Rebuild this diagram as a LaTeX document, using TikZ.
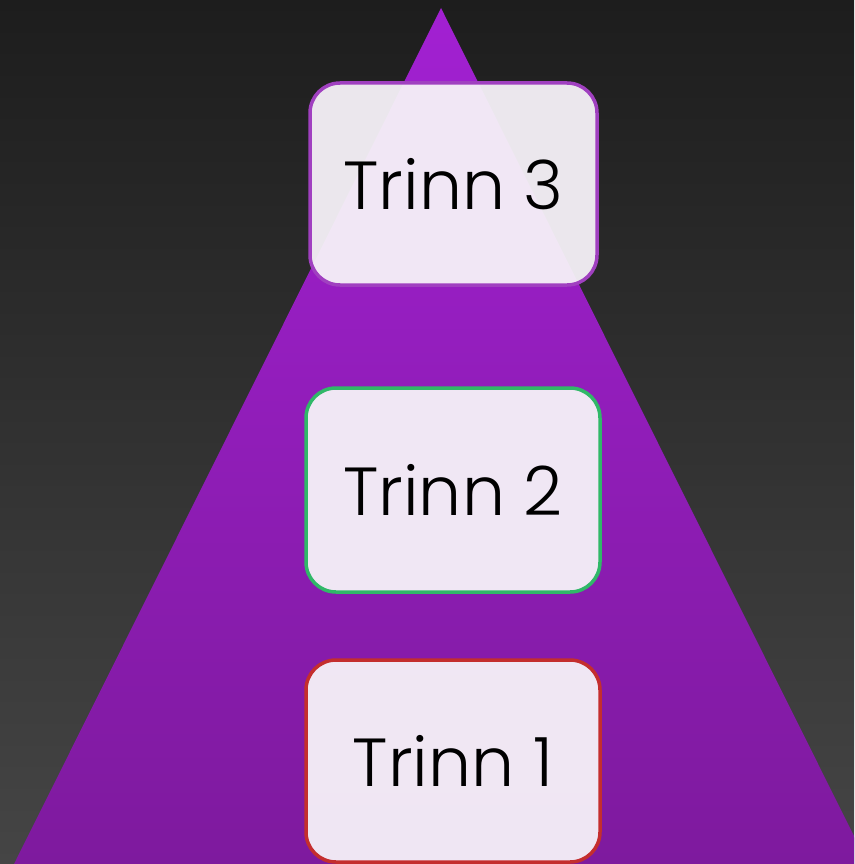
\documentclass[tikz,border=0pt]{standalone}
\usepackage{fontspec}
\setmainfont{Poppins Light}
\definecolor{bgtop}{HTML}{1D1D1D}
\definecolor{bgbot}{HTML}{454545}
\definecolor{tritop}{HTML}{A220D2}
\definecolor{tribot}{HTML}{7E1A9E}
\definecolor{boxfill}{HTML}{F6F2F8}
\definecolor{bpurple}{HTML}{A040C0}
\definecolor{bgreen}{HTML}{30B868}
\definecolor{bred}{HTML}{C42E2E}
\tikzset{
  stepbox/.style={draw, line width=3.5pt, rounded corners=30pt, fill=boxfill, fill opacity=0.95, text opacity=1,
    inner sep=0pt, font=\fontsize{68}{72}\selectfont, text=black},
}
\begin{document}
\begin{tikzpicture}[x=1pt,y=-1pt]
\useasboundingbox (0,0) rectangle (854,864);
\clip (0,0) rectangle (854,864);
\shade[top color=bgtop, bottom color=bgbot] (0,0) rectangle (854,864);
\coordinate (apex) at (441,8);
\coordinate (bl) at (14,864);
\coordinate (br) at (868,864);
\shade[top color=tritop, bottom color=tribot] (apex) -- (br) -- (bl) -- cycle;
\node[stepbox, draw=bpurple, minimum width=287pt, minimum height=202pt] (t3) at (453.5,184) {Trinn 3};
\node[stepbox, draw=bgreen, minimum width=294pt, minimum height=204pt] (t2) at (453,490) {Trinn 2};
\node[stepbox, draw=bred, minimum width=294pt, minimum height=202pt] (t1) at (453,761) {Trinn 1};
\end{tikzpicture}
\end{document}
